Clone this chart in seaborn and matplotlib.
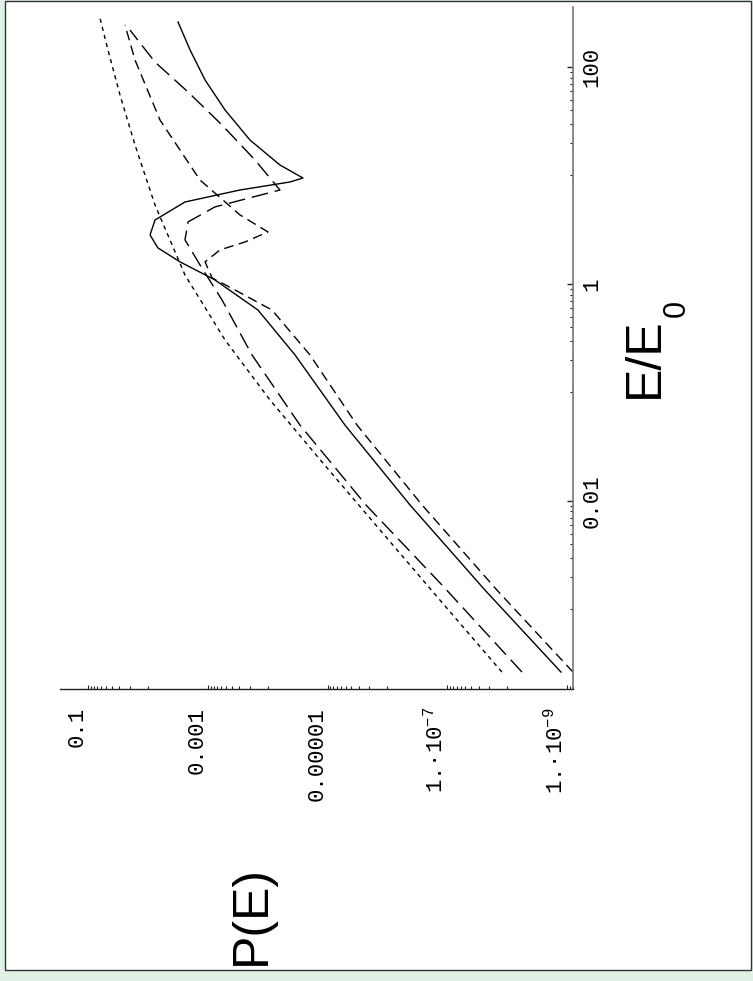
import numpy as np
import pandas as pd
import seaborn as sns
import matplotlib
matplotlib.use("Agg")
import matplotlib.pyplot as plt
from matplotlib.patches import Rectangle
from matplotlib.ticker import FixedLocator, NullFormatter

# ---------------- data ----------------
E_short = [2.65e-4, 1.22e-3, 5.40e-3, 0.0229, 0.0853, 0.305, 1.21, 5.35, 19.1, 55.2, 144, 283]
P_short = [1.23e-8, 1.33e-7, 1.33e-6, 1.24e-5, 9.16e-5, 5.16e-4, 2.40e-3, 7.6e-3, 0.0164, 0.0292, 0.0464, 0.0631]

E_long = [2.65e-4, 1.68e-3, 9.19e-3, 0.0501, 0.222, 0.713, 1.50, 2.55, 3.73, 5.13, 7.35,
          13.9, 29.2, 58.9, 111, 219]
P_long = [5.69e-9, 1.23e-7, 2.29e-6, 2.89e-5, 1.83e-4, 5.79e-4, 1.35e-3, 2.40e-3, 2.14e-3, 7.6e-4, 6.24e-5,
          1.63e-4, 5.79e-4, 2.14e-3, 7.6e-3, 0.0199]

E_solid = [2.65e-4, 1.51e-3, 9.19e-3, 0.0501, 0.222, 0.575, 1.09, 1.60, 2.15, 2.83, 3.89, 5.70, 7.35,
           8.71, 9.48, 12.5, 21.2, 40.2, 75.9, 144, 260]
P_solid = [1.27e-9, 2.36e-8, 4.21e-7, 5.13e-6, 3.50e-5, 1.45e-4, 7.6e-4, 2.91e-3, 6.8e-3, 9.2e-3, 7.6e-3, 2.40e-3, 2.90e-4,
           4.25e-5, 2.58e-5, 6.24e-5, 1.97e-4, 5.16e-4, 1.11e-3, 1.98e-3, 3.14e-3]

E_med = [2.65e-4, 1.51e-3, 9.19e-3, 0.0501, 0.222, 0.575, 0.881, 1.14, 1.60, 2.06, 2.44, 3.02,
         4.33, 9.09, 32.5, 116, 244]
P_med = [8.0e-10, 1.49e-8, 2.65e-7, 3.23e-6, 1.97e-5, 8.47e-5, 3.52e-4, 8.5e-4, 1.11e-3, 6.25e-4, 2.39e-4, 9.9e-5,
         2.90e-4, 1.35e-3, 6.28e-3, 0.0164, 0.0241]

P_ticks = [0.1, 1e-3, 1e-5, 1e-7, 1e-9]
P_ticklabels = ["0.1", "0.001", "0.00001", "1.\u00b710$^{-7}$", "1.\u00b710$^{-9}$"]
E_ticks = [0.01, 1, 100]
E_ticklabels = ["0.01", "1", "100"]

# ---------------- figure ----------------
W, H = 753, 981
plt.rcParams["mathtext.fontset"] = "custom"
plt.rcParams["mathtext.rm"] = "Liberation Mono"
plt.rcParams["mathtext.default"] = "rm"

fig = plt.figure(figsize=(W / 100, H / 100), dpi=100)
fig.patch.set_facecolor("#e1f1e5")
fig.patches.append(Rectangle((5 / W, 1 - 970 / H), (751 - 5) / W, (970 - 1) / H,
                             transform=fig.transFigure, facecolor="white",
                             edgecolor="#333333", lw=1.0, zorder=-5))

L, R, T, B = 60, 573, 7, 689
ax = fig.add_axes([L / W, 1 - B / H, (R - L) / W, (B - T) / H])
ax.patch.set_alpha(0)

# axis limits (log10 of the values at the axes' edges)
P_lim = (10 ** -0.533, 10 ** -9.097)
E_lim = (10 ** -3.733, 10 ** 2.553)

styles = [
    (P_short, E_short, (3, 3)),
    (P_long, E_long, (12, 5)),
    (P_solid, E_solid, None),
    (P_med, E_med, (7, 4)),
]
for P, E, d in styles:
    df = pd.DataFrame({"P": P, "E": E})
    sns.lineplot(data=df, x="P", y="E", sort=False, estimator=None, ax=ax,
                 color="black", lw=1.0)
    line = ax.lines[-1]
    if d is not None:
        line.set_dashes(d)

ax.set_xscale("log")
ax.set_yscale("log")
ax.set_xlim(*P_lim)
ax.set_ylim(*E_lim)
ax.set_xlabel("")
ax.set_ylabel("")

for s in ["top", "left"]:
    ax.spines[s].set_visible(False)
ax.spines["bottom"].set_color("#222222")
ax.spines["right"].set_color("#777777")
ax.spines["bottom"].set_linewidth(1.0)
ax.spines["right"].set_linewidth(1.2)

ax.yaxis.tick_right()
ax.xaxis.set_major_locator(FixedLocator(P_ticks))
ax.xaxis.set_minor_locator(FixedLocator([m * t / 10 for t in P_ticks for m in range(1, 10)]))
ax.yaxis.set_major_locator(FixedLocator(E_ticks))
ax.yaxis.set_minor_locator(FixedLocator([m * t / 10 for t in E_ticks + [1e4] for m in range(1, 10)]))
ax.xaxis.set_minor_formatter(NullFormatter())
ax.yaxis.set_minor_formatter(NullFormatter())
ax.set_xticklabels(P_ticklabels, rotation=90, va="top", ha="right",
                   family="Liberation Mono", fontsize=16)
ax.set_yticklabels(E_ticklabels, rotation=90, va="center", ha="left",
                   family="Liberation Mono", fontsize=16)
ax.tick_params(axis="x", which="major", direction="in", length=3, width=0.8, pad=13, color="#222222")
ax.tick_params(axis="x", which="minor", direction="in", length=2, width=0.8, color="#222222")
ax.tick_params(axis="y", which="major", direction="in", length=4.5, width=1.0, pad=6, color="#222222")
ax.tick_params(axis="y", which="minor", direction="in", length=2.5, width=0.8, color="#222222")

fig.text(252 / W, 1 - 915 / H, "P(E)", rotation=90, ha="center", va="center",
         family="Liberation Sans", fontsize=36)
fig.text(645 / W, 1 - 358 / H, "E/E", rotation=90, ha="center", va="center",
         family="Liberation Sans", fontsize=36)
fig.text(677 / W, 1 - 308 / H, "0", rotation=90, ha="center", va="center",
         family="Liberation Sans", fontsize=22)

fig.savefig("out.png", dpi=100, facecolor=fig.get_facecolor())
